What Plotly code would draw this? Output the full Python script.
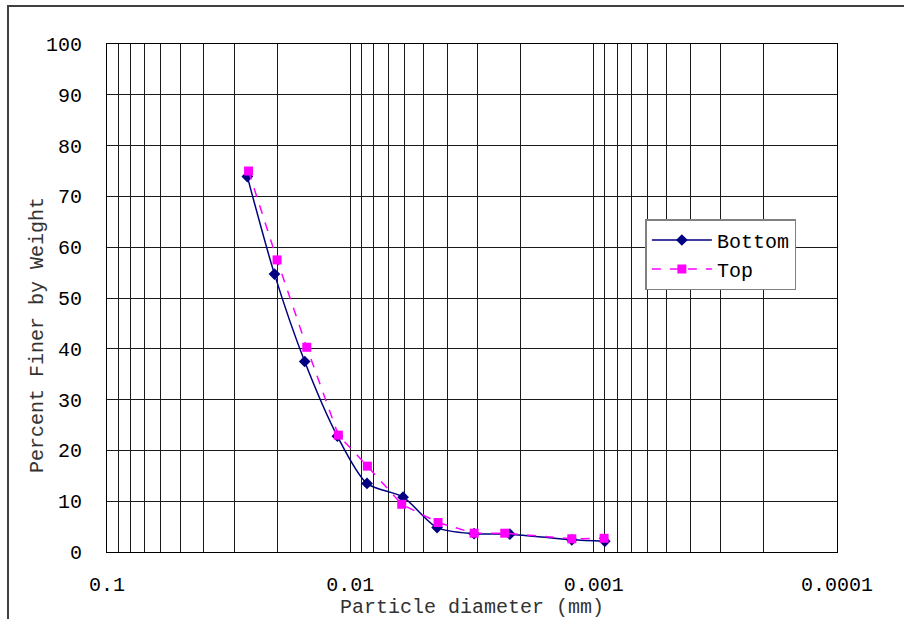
import plotly.graph_objects as go

# ---- data ----
bottom_diam = [0.0265, 0.0205, 0.0154, 0.0113, 0.00854, 0.00607, 0.00440, 0.00310, 0.00221, 0.00123, 0.00090]
bottom_pct = [73.9, 54.7, 37.5, 22.8, 13.5, 10.8, 4.8, 3.6, 3.5, 2.4, 2.1]
top_diam = [0.0262, 0.0200, 0.0151, 0.0112, 0.00851, 0.00615, 0.00436, 0.00310, 0.00232, 0.00123, 0.000906]
top_pct = [75.0, 57.5, 40.3, 23.0, 16.9, 9.4, 5.8, 3.7, 3.7, 2.6, 2.7]

decade_vals = [0.1, 0.01, 0.001, 0.0001]
decade_text = ["0.1", "0.01", "0.001", "0.0001"]
y_ticks = list(range(0, 101, 10))

x_title = "Particle diameter (mm)"
y_title = "Percent Finer by Weight"

# gridline positions: every 1..9 multiple within each decade
grid_vals = []
grid_text = []
for d in [0.01, 0.001, 0.0001]:
    for m in range(1, 10):
        grid_vals.append(round(m * d, 6))
        grid_text.append("")
grid_vals.append(0.1)
grid_text.append("")
for v, t in zip(decade_vals, decade_text):
    grid_text[grid_vals.index(round(v, 6))] = t

FONT = "Liberation Mono"

fig = go.Figure()
fig.add_trace(go.Scatter(
    x=bottom_diam, y=bottom_pct, name="Bottom", mode="lines+markers",
    line=dict(color="#000080", width=1.5, shape="spline", smoothing=0.8),
    marker=dict(symbol="diamond", size=9, color="#000080"),
))
fig.add_trace(go.Scatter(
    x=top_diam, y=top_pct, name="Top", mode="lines+markers",
    line=dict(color="#FF00FF", width=1.5, dash="dash"),
    marker=dict(symbol="square", size=9, color="#FF00FF"),
))

fig.update_layout(
    width=904, height=619,
    margin=dict(l=107, r=67, t=44, b=67),
    paper_bgcolor="white", plot_bgcolor="white",
    font=dict(family=FONT, size=20, color="black"),
    showlegend=True,
    legend=dict(
        x=0.7375, y=0.6555, xanchor="left", yanchor="top",
        bgcolor="white", bordercolor="#808080", borderwidth=1.5,
        font=dict(family=FONT, size=20, color="black"),
        itemwidth=60, tracegroupgap=0,
    ),
)

fig.update_xaxes(
    type="log", range=[-1, -4], autorange=False, automargin=False,
    tickvals=grid_vals, ticktext=grid_text,
    showgrid=True, gridcolor="#1a1a1a", gridwidth=1,
    showline=True, linecolor="black", linewidth=1, mirror=True,
    ticks="", ticklabelstandoff=14,
    tickfont=dict(family=FONT, size=20, color="black"),
    zeroline=False,
)
fig.update_yaxes(
    range=[0, 100], autorange=False, automargin=False,
    tickvals=y_ticks,
    showgrid=True, gridcolor="#1a1a1a", gridwidth=1,
    showline=True, linecolor="black", linewidth=1, mirror=True,
    ticks="", ticklabelstandoff=20,
    tickfont=dict(family=FONT, size=20, color="black"),
    zeroline=False,
)

# axis titles
fig.add_annotation(text=x_title, xref="paper", yref="paper",
                   x=0.5, y=-0.1102, xanchor="center", yanchor="middle",
                   showarrow=False, font=dict(family=FONT, size=20, color="#333333"))
fig.add_annotation(text=y_title, xref="paper", yref="paper",
                   x=-0.0959, y=0.427, xanchor="center", yanchor="middle", textangle=-90,
                   showarrow=False, font=dict(family=FONT, size=20, color="#333333"))

# outer chart frame (extends beyond the window on right and bottom)
fig.add_shape(type="rect", xref="paper", yref="paper",
              x0=-0.1356, x1=1.3, y0=-0.3, y1=1.0748,
              line=dict(color="#404040", width=2), fillcolor="rgba(0,0,0,0)",
              layer="above")

fig.write_html("out.html")
